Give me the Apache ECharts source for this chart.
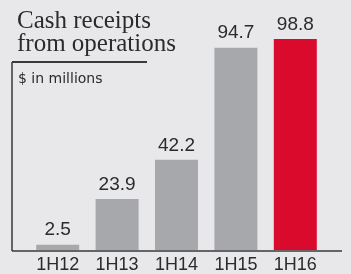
<!DOCTYPE html>
<html>
<head>
<meta charset="utf-8">
<script src="https://cdn.jsdelivr.net/npm/echarts@6/dist/echarts.min.js"></script>
<style>
  html, body { margin: 0; padding: 0; background: #e8e8ea; }
  #chart { width: 351px; height: 274px; }
</style>
</head>
<body>
<div id="chart"></div>
<script>
'use strict';

// data
var periods = ['1H12', '1H13', '1H14', '1H15', '1H16'];
var receipts = [2.5, 23.9, 42.2, 94.7, 98.8];
var barColors = ['#a7a8ac', '#a7a8ac', '#a7a8ac', '#a7a8ac', '#d90a2c'];

var myChart = echarts.init(document.getElementById('chart'));

var option = {
  backgroundColor: '#e8e8ea',
  animation: false,
  title: {
    text: 'Cash receipts\nfrom operations',
    left: 12,
    top: 5,
    textStyle: {
      fontFamily: 'Liberation Serif',
      fontWeight: 'normal',
      fontSize: 25,
      lineHeight: 23,
      color: '#2b2b2b'
    }
  },
  graphic: [
    { type: 'line', shape: { x1: 12, y1: 62, x2: 147, y2: 62 }, style: { stroke: '#3a3a3c', lineWidth: 2 } },
    { type: 'line', shape: { x1: 12, y1: 62, x2: 12, y2: 251 }, style: { stroke: '#3a3a3c', lineWidth: 1.5 } },
    { type: 'line', shape: { x1: 12, y1: 251, x2: 342, y2: 251 }, style: { stroke: '#3a3a3c', lineWidth: 1.5 } },
    {
      type: 'text', left: 18, top: 72,
      style: { text: '$ in millions', font: '14px "DejaVu Sans"', fill: '#2b2b2b' }
    }
  ],
  grid: { left: 28, right: 26, top: 36.4, bottom: 23 },
  xAxis: {
    type: 'category',
    data: periods,
    axisLine: { show: false },
    axisTick: { show: false },
    axisLabel: {
      margin: 6,
      fontFamily: 'Liberation Sans',
      fontSize: 18,
      color: '#2b2b2b'
    }
  },
  yAxis: {
    type: 'value',
    min: 0,
    max: 100,
    show: false
  },
  series: [{
    type: 'bar',
    barWidth: 43,
    data: receipts.map(function (v, i) {
      return { value: v, itemStyle: { color: barColors[i] } };
    }),
    label: {
      show: true,
      position: 'top',
      distance: 5,
      fontFamily: 'Liberation Sans',
      fontSize: 19,
      color: '#2b2b2b'
    }
  }]
};

myChart.setOption(option);
</script>
</body>
</html>
